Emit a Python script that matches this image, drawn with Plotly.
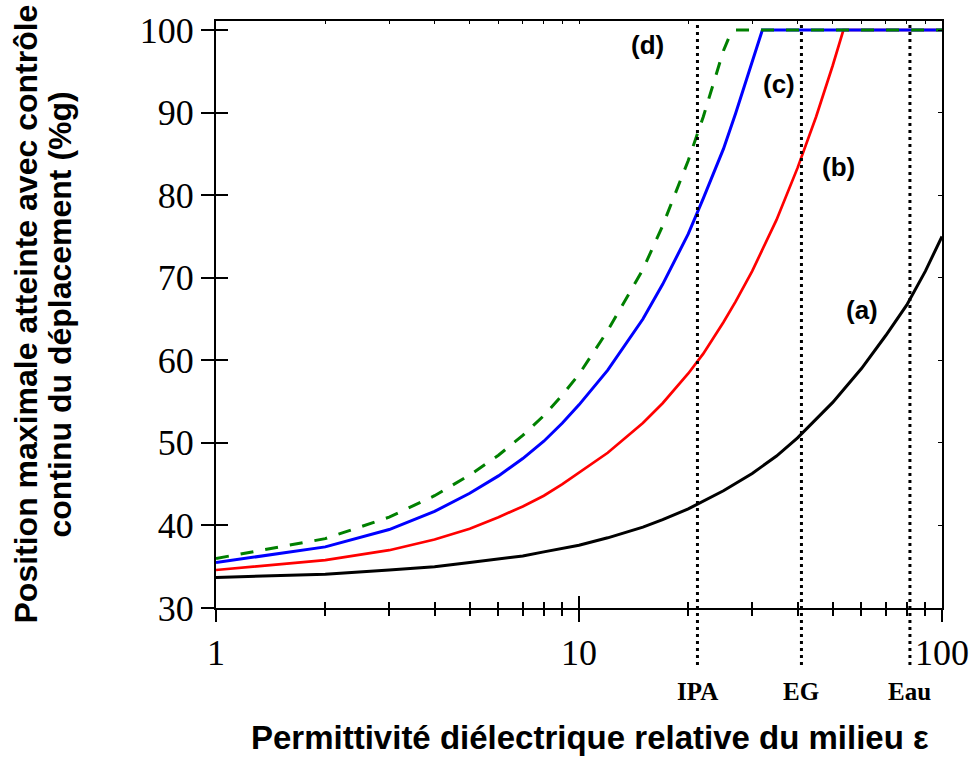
import math
import plotly.graph_objects as go

# ---- data ----
eps_a = [1, 2, 3, 4, 5, 6, 7, 8, 9, 10, 12, 15, 17, 20, 25, 30, 35, 40, 50, 60, 70, 80, 90, 100]
pos_a = [33.7, 34.1, 34.6, 35.0, 35.5, 35.9, 36.3, 36.8, 37.2, 37.6, 38.5, 39.8, 40.7, 42.0,
         44.2, 46.3, 48.4, 50.6, 54.9, 59.0, 63.0, 66.7, 70.8, 75.0]

eps_b = [1, 2, 3, 4, 5, 6, 7, 8, 9, 10, 12, 15, 17, 20, 22, 25, 27, 30, 35, 40, 45, 50, 53.5,
         60, 70, 80, 90, 100]
pos_b = [34.6, 35.8, 37.0, 38.3, 39.6, 41.0, 42.3, 43.6, 45.0, 46.4, 48.8, 52.4, 54.8, 58.4,
         60.8, 64.6, 67.1, 70.8, 77.0, 83.3, 89.5, 95.7, 100, 100, 100, 100, 100, 100]

eps_c = [1, 2, 3, 4, 5, 6, 7, 8, 9, 10, 12, 15, 17, 20, 22, 25, 27, 30, 32,
         40, 50, 60, 70, 80, 90, 100]
pos_c = [35.5, 37.4, 39.5, 41.7, 43.9, 46.0, 48.1, 50.2, 52.4, 54.6, 58.8, 65.0, 69.2, 75.3,
         79.6, 85.6, 89.9, 96.0, 100, 100, 100, 100, 100, 100, 100, 100]

eps_d = [1, 2, 3, 4, 5, 6, 7, 8, 9, 10, 12, 15, 17, 20, 22, 24, 25, 26, 27,
         30, 40, 50, 60, 70, 80, 90, 100]
pos_d = [36.0, 38.4, 41.0, 43.6, 46.1, 48.5, 50.9, 53.3, 55.8, 58.3, 63.6, 71.0, 76.3, 84.2,
         89.5, 95.0, 97.5, 99.3, 100, 100, 100, 100, 100, 100, 100, 100, 100]

series_names = ["(a)", "(b)", "(c)", "(d)"]
label_eps = [60.2, 51.7, 35.6, 15.4]
label_pos = [66.1, 83.4, 93.5, 98.2]

solvent_names = ["IPA", "EG", "Eau"]
solvent_eps = [21.2, 41.0, 81.6]

x_major = [1, 10, 100]
x_minor = [2, 3, 4, 5, 6, 7, 8, 9, 20, 30, 40, 50, 60, 70, 80, 90]
y_major = [30, 40, 50, 60, 70, 80, 90, 100]

serif = "Liberation Serif, Times New Roman, serif"
sans = "Liberation Sans, Arial, sans-serif"

fig = go.Figure()
styles = [
    dict(color="black", width=3),
    dict(color="#ff0000", width=2.7),
    dict(color="#0000ff", width=3),
    dict(color="#008000", width=3, dash="13px,12px"),
]
for ex, ps, st, nm in zip([eps_a, eps_b, eps_c, eps_d], [pos_a, pos_b, pos_c, pos_d], styles, series_names):
    fig.add_trace(go.Scatter(x=ex, y=ps, mode="lines", line=st, name=nm, showlegend=False,
                             hoverinfo="skip"))

# dummy traces so overlay axes (crossing ticks) are drawn
fig.add_trace(go.Scatter(x=[None], y=[None], xaxis="x2", yaxis="y", showlegend=False, hoverinfo="skip"))
fig.add_trace(go.Scatter(x=[None], y=[None], xaxis="x", yaxis="y2", showlegend=False, hoverinfo="skip"))
fig.add_trace(go.Scatter(x=[None], y=[None], xaxis="x3", yaxis="y", showlegend=False, hoverinfo="skip"))
fig.add_trace(go.Scatter(x=[None], y=[None], xaxis="x", yaxis="y3", showlegend=False, hoverinfo="skip"))

# solvent vertical dotted lines
for e, nm in zip(solvent_eps, solvent_names):
    fig.add_shape(type="line", xref="x", yref="paper", x0=e, x1=e, y0=-0.097, y1=0.997,
                  line=dict(color="black", width=3, dash="3px,4px"))
    fig.add_annotation(x=math.log10(e), xref="x", y=-0.143, yref="paper", text="<b>%s</b>" % nm,
                       showarrow=False, xanchor="center", yanchor="middle",
                       font=dict(family=serif, size=25, color="black"))

for nm, lx, ly in zip(series_names, label_eps, label_pos):
    fig.add_annotation(x=math.log10(lx), y=ly, xref="x", yref="y", text="<b>%s</b>" % nm,
                       showarrow=False, xanchor="center", yanchor="middle",
                       font=dict(family=sans, size=26, color="black"))

# axis titles
fig.add_annotation(x=(590 - 216) / 726, y=(608 - 737) / 587, xref="paper", yref="paper",
                   text="<b>Permittivité diélectrique relative du milieu ε</b>", showarrow=False,
                   xanchor="center", yanchor="middle", font=dict(family=sans, size=33, color="black"))
fig.add_annotation(x=(25 - 216) / 726, y=0.5, xref="paper", yref="paper",
                   text="<b>Position maximale atteinte avec contrôle</b>", showarrow=False, textangle=-90,
                   xanchor="center", yanchor="middle", font=dict(family=sans, size=32, color="black"))
fig.add_annotation(x=(59 - 216) / 726, y=0.5, xref="paper", yref="paper",
                   text="<b>continu du déplacement (%g)</b>", showarrow=False, textangle=-90,
                   xanchor="center", yanchor="middle", font=dict(family=sans, size=32, color="black"))

tickfont = dict(family=serif, size=36, color="black")
xr = [0, 2]
yr = [30, 101.09]
common = dict(showgrid=False, zeroline=False, automargin=False)

fig.update_layout(
    width=971, height=760, autosize=False,
    margin=dict(l=216, r=29, t=21, b=152, pad=0, autoexpand=False),
    paper_bgcolor="white", plot_bgcolor="white",
    showlegend=False,
    xaxis=dict(type="log", range=xr, showline=True, linecolor="black", linewidth=2, mirror=True,
               ticks="outside", ticklen=12, tickwidth=1.5, tickcolor="black",
               tickmode="array", tickvals=x_major, ticktext=[str(v) for v in x_major],
               tickfont=tickfont,
               minor=dict(tickmode="array", tickvals=x_minor, ticks="outside", ticklen=6,
                          tickwidth=1.5, tickcolor="black", showgrid=False), **common),
    xaxis2=dict(type="log", range=xr, overlaying="x", anchor="y", showline=False,
                ticks="inside", ticklen=12, tickwidth=1.5, tickcolor="black",
                tickmode="array", tickvals=x_major, showticklabels=False,
                minor=dict(tickmode="array", tickvals=x_minor, ticks="inside", ticklen=6,
                           tickwidth=1.5, tickcolor="black", showgrid=False), **common),
    xaxis3=dict(type="log", range=xr, overlaying="x", anchor="y", side="top", showline=False,
                ticks="inside", ticklen=3, tickwidth=1, tickcolor="black",
                tickmode="array", tickvals=x_major + x_minor, showticklabels=False, **common),
    yaxis=dict(range=yr, showline=True, linecolor="black", linewidth=2, mirror=True,
               ticks="outside", ticklen=13, tickwidth=1.5, tickcolor="black",
               tickmode="array", tickvals=y_major, tickfont=tickfont, **common),
    yaxis2=dict(range=yr, overlaying="y", anchor="x", showline=False,
                ticks="inside", ticklen=12, tickwidth=1.5, tickcolor="black",
                tickmode="array", tickvals=y_major, showticklabels=False, **common),
    yaxis3=dict(range=yr, overlaying="y", anchor="x", side="right", showline=False,
                ticks="inside", ticklen=4, tickwidth=1, tickcolor="black",
                tickmode="array", tickvals=y_major, showticklabels=False, **common),
)

fig.write_html("out.html", config={"displayModeBar": False},
               post_script="document.body.style.margin='0px';document.body.style.overflow='hidden';")
